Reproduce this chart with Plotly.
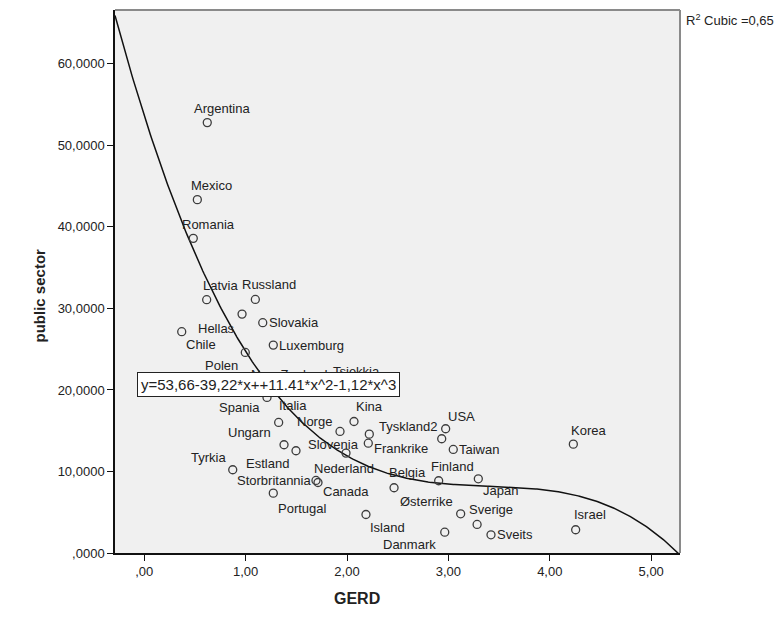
import numpy as np
import plotly.graph_objects as go

# ---------------- data ----------------
countries = ["Argentina", "Mexico", "Romania", "Latvia", "Russland", "Hellas",
             "Slovakia", "Chile", "Luxemburg", "Polen", "Spania", "Italia",
             "Ungarn", "Estland", "Norge", "Kina", "Slovenia", "Frankrike",
             "Nederland", "Tyskland2", "USA", "Taiwan", "Korea", "Tyrkia",
             "Storbritannia", "Canada", "Portugal", "Belgia", "Finland", "Japan",
             "Sverige", "Østerrike", "Danmark", "Sveits", "Israel", "Island",
             "New Zealand", "Tsjekkia"]
gerd = [0.622, 0.524, 0.484, 0.616, 1.096, 0.965,
        1.169, 0.370, 1.273, 0.997, 1.211, 1.326,
        1.379, 1.497, 1.931, 2.069, 2.220, 2.210,
        1.990, 2.934, 2.973, 3.048, 4.232, 0.873,
        1.694, 1.714, 1.273, 2.464, 2.904, 3.295,
        3.283, 3.121, 2.964, 3.420, 4.255, 2.187,
        1.290, 1.951]
public_sector = [52.79, 43.34, 38.59, 31.07, 31.10, 29.30,
                 28.25, 27.14, 25.50, 24.60, 19.08, 16.01,
                 13.28, 12.54, 14.91, 16.13, 14.58, 13.47,
                 12.25, 14.01, 15.24, 12.70, 13.35, 10.21,
                 8.90, 8.65, 7.34, 8.00, 8.86, 9.10,
                 3.50, 4.81, 2.55, 2.23, 2.85, 4.72,
                 20.43, 20.67]

# cubic fit coefficients (b0, b1, b2, b3) as printed on the chart
cubic_coef = [53.66, -39.22, 11.41, -1.12]
r2_text = "R<sup>2</sup> Cubic =0,65"
equation_text = "y=53,66-39,22*x++11.41*x^2-1,12*x^3"

x_tickvals = [0, 1, 2, 3, 4, 5]
x_ticktext = [",00", "1,00", "2,00", "3,00", "4,00", "5,00"]
y_tickvals = [0, 10, 20, 30, 40, 50, 60]
y_ticktext = [",0000", "10,0000", "20,0000", "30,0000", "40,0000", "50,0000", "60,0000"]

# ---------------- label placement (style) ----------------
# (anchor, x offset px, y offset px downward)
label_pos = {
    "Argentina": ("center", 15, -14), "Mexico": ("center", 14, -14),
    "Romania": ("center", 15, -14), "Latvia": ("center", 14, -14),
    "Russland": ("center", 14, -15), "Hellas": ("right", -5, 14),
    "Slovakia": ("left", 4, 0), "Chile": ("left", 2, 13),
    "Luxemburg": ("left", 4, 0), "Polen": ("right", -5, 13),
    "Spania": ("right", -5, 10), "Italia": ("center", 14, -17),
    "Ungarn": ("right", -11, -12), "Estland": ("right", -5, 13),
    "Norge": ("right", -6, -10), "Kina": ("center", 15, -15),
    "Slovenia": ("right", -8, 10), "Frankrike": ("left", 4, 5),
    "Nederland": ("center", -2, 15), "Tyskland2": ("right", -2, -12),
    "USA": ("center", 16, -12), "Taiwan": ("left", 4, 0),
    "Korea": ("center", 15, -14), "Tyrkia": ("right", -5, -12),
    "Storbritannia": ("right", -3, 0), "Canada": ("left", 3, 9),
    "Portugal": ("left", 3, 15), "Belgia": ("center", 13, -15),
    "Finland": ("center", 14, -14), "Japan": ("left", 3, 12),
    "Sverige": ("center", 14, -15), "Østerrike": ("right", -6, -12),
    "Danmark": ("right", -7, 12), "Sveits": ("left", 4, 0),
    "Israel": ("center", 14, -15), "Island": ("left", 2, 13),
    "New Zealand": ("center", 14, -12), "Tsjekkia": ("center", 14, -13),
}

X_RANGE = [-0.288, 5.284]
Y_RANGE = [0, 66.6]
FONT = "Liberation Sans, Arial, sans-serif"
TXT = "#222222"

fig = go.Figure()

# fitted cubic curve
xc = np.linspace(X_RANGE[0], X_RANGE[1], 400)
yc = sum(c * xc ** i for i, c in enumerate(cubic_coef))
fig.add_trace(go.Scatter(x=xc, y=yc, mode="lines",
                         line=dict(color="#111111", width=1.5),
                         hoverinfo="skip", showlegend=False))

# data points
fig.add_trace(go.Scatter(x=gerd, y=public_sector, mode="markers",
                         marker=dict(symbol="circle-open", size=8, color="#3c3c3c",
                                     line=dict(width=1.3)),
                         text=countries, showlegend=False))

annotations = []
for name, gx, py in zip(countries, gerd, public_sector):
    anchor, dx, dy = label_pos[name]
    annotations.append(dict(x=gx, y=py, xref="x", yref="y", text=name,
                            showarrow=False, xanchor=anchor, yanchor="middle",
                            xshift=dx, yshift=-dy,
                            font=dict(family=FONT, size=13, color=TXT)))

# axis titles
annotations.append(dict(x=0.428, y=-0.083, xref="paper", yref="paper", text="<b>GERD</b>",
                        showarrow=False, xanchor="center", yanchor="middle",
                        font=dict(family=FONT, size=16, color=TXT)))
annotations.append(dict(x=-0.133, y=0.474, xref="paper", yref="paper",
                        text="<b>public sector</b>", textangle=-90,
                        showarrow=False, xanchor="center", yanchor="middle",
                        font=dict(family=FONT, size=15, color=TXT)))
# R^2 legend
annotations.append(dict(x=1.007, y=0.9816, xref="paper", yref="paper", text=r2_text,
                        showarrow=False, xanchor="left", yanchor="middle",
                        font=dict(family=FONT, size=13, color=TXT)))
# equation box (on top)
annotations.append(dict(x=0.2717, y=0.3112, xref="paper", yref="paper", text=equation_text,
                        showarrow=False, xanchor="center", yanchor="middle",
                        bgcolor="white", bordercolor="#222222", borderwidth=1, borderpad=3,
                        font=dict(family=FONT, size=15, color=TXT)))

fig.update_layout(
    width=779, height=626,
    margin=dict(l=115, r=99, t=10, b=73),
    paper_bgcolor="white", plot_bgcolor="#F0F0F0",
    annotations=annotations,
    font=dict(family=FONT, color=TXT),
    xaxis=dict(range=X_RANGE, tickvals=x_tickvals, ticktext=x_ticktext,
               ticks="outside", ticklen=6, tickcolor="#111111", tickwidth=1,
               showline=True, linecolor="#111111", linewidth=1.5,
               showgrid=False, zeroline=False,
               tickfont=dict(family=FONT, size=13, color=TXT)),
    yaxis=dict(range=Y_RANGE, tickvals=y_tickvals, ticktext=y_ticktext,
               ticks="outside", ticklen=6, tickcolor="#111111", tickwidth=1,
               showline=True, linecolor="#111111", linewidth=1.5,
               showgrid=False, zeroline=False,
               tickfont=dict(family=FONT, size=13, color=TXT)),
    shapes=[
        dict(type="line", xref="paper", yref="paper", x0=0, x1=1, y0=1, y1=1,
             line=dict(color="#8a8a8a", width=2)),
        dict(type="line", xref="paper", yref="paper", x0=1, x1=1, y0=0, y1=1,
             line=dict(color="#8a8a8a", width=2)),
    ],
)

fig.write_html("out.html")
